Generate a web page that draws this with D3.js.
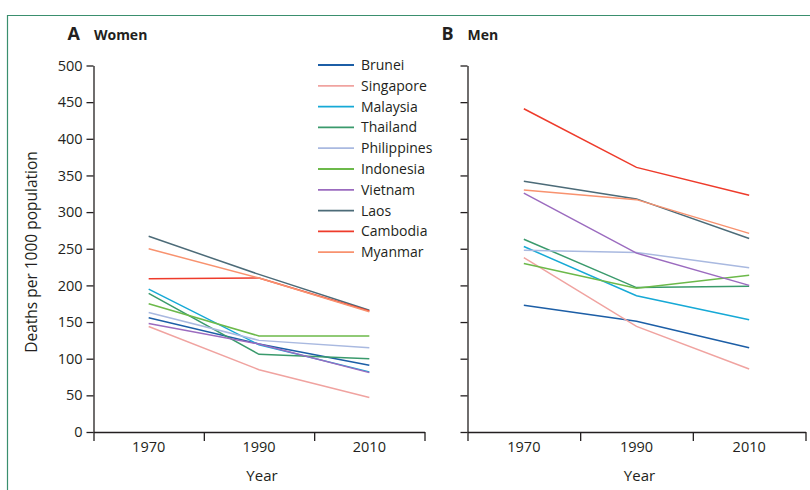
<!DOCTYPE html>
<html>
<head>
<meta charset="utf-8">
<script src="https://cdn.jsdelivr.net/npm/d3@7"></script>
<style>
  html, body { margin: 0; padding: 0; background: #fff; }
  svg { display: block; }
  text { font-family: "Open Sans", "Noto Sans", sans-serif; fill: #231f20; }
</style>
</head>
<body>
<svg id="chart" width="810" height="490"></svg>
<script>
// Mortality (deaths per 1000 population) by country, 1970 / 1990 / 2010
const years = ["1970", "1990", "2010"];
const countries = ["Brunei", "Singapore", "Malaysia", "Thailand", "Philippines",
                   "Indonesia", "Vietnam", "Laos", "Cambodia", "Myanmar"];
const colors = ["#1c5ea6", "#f0a3a0", "#16a9d6", "#3a9a6c", "#a9b9e0",
                "#6cb94a", "#9b6bbf", "#4c6b78", "#ee3b2b", "#f8926f"];

const women = {
  Brunei:      [156, 120, 91],
  Singapore:   [144, 85, 47],
  Malaysia:    [195, 119, 82],
  Thailand:    [189, 106, 100],
  Philippines: [163, 125, 115],
  Indonesia:   [175, 131, 131],
  Vietnam:     [148, 120, 81],
  Laos:        [267, 215, 166],
  Cambodia:    [209, 210, 165],
  Myanmar:     [250, 210, 164]
};
const men = {
  Brunei:      [173, 151, 115],
  Singapore:   [238, 144, 86],
  Malaysia:    [253, 186, 153],
  Thailand:    [263, 197, 199],
  Philippines: [248, 245, 224],
  Indonesia:   [230, 196, 214],
  Vietnam:     [326, 244, 200],
  Laos:        [342, 318, 264],
  Cambodia:    [441, 361, 323],
  Myanmar:     [330, 317, 271]
};
const yTicks = [0, 50, 100, 150, 200, 250, 300, 350, 400, 450, 500];

const svg = d3.select("#chart");

// Outer frame (top and left rules)
svg.append("path")
  .attr("d", "M7.5,490 V15.5 H810")
  .attr("fill", "none")
  .attr("stroke", "#3a8f6e")
  .attr("stroke-width", 1.2);

const y = d3.scaleLinear().domain([0, 500]).range([432, 65.5]);

function panel(x0, x1, letter, title, data) {
  const g = svg.append("g");
  const band = d3.scaleBand().domain(years).range([x0, x1]);
  const edge = d3.scaleLinear().domain([0, years.length]).range([x0, x1]);
  const xPos = yr => band(yr) + band.bandwidth() / 2;

  // y axis
  const ya = g.append("g")
    .attr("transform", `translate(${x0},0)`)
    .call(d3.axisLeft(y).tickValues(yTicks).tickSize(7).tickPadding(4).tickSizeOuter(0));
  ya.select(".domain").attr("stroke", "#231f20").attr("stroke-width", 1.3);
  ya.selectAll(".tick line").attr("stroke", "#231f20").attr("stroke-width", 1.3);
  ya.selectAll("text").style("font-size", "14.5px").attr("fill", "#231f20");
  if (letter !== "A") ya.selectAll("text").remove();

  // x axis: ticks at band boundaries
  const xa = g.append("g")
    .attr("transform", `translate(0,${y(0)})`)
    .call(d3.axisBottom(edge).tickValues(d3.range(years.length + 1))
      .tickFormat("").tickSize(9).tickSizeOuter(0));
  xa.select(".domain").attr("stroke", "#231f20").attr("stroke-width", 1.3);
  xa.selectAll(".tick line").attr("stroke", "#231f20").attr("stroke-width", 1.3);

  // x labels centred in each band
  const xl = g.append("g")
    .attr("transform", `translate(0,${y(0)})`)
    .call(d3.axisBottom(band).tickSize(0).tickPadding(10));
  xl.select(".domain").remove();
  xl.selectAll("text").style("font-size", "14.5px").attr("fill", "#231f20");

  g.append("text")
    .attr("x", (x0 + x1) / 2 + 3).attr("y", 481)
    .attr("text-anchor", "middle")
    .style("font-size", "15px")
    .text("Year");

  // panel heading
  const h = g.append("text").attr("x", x0 - 26).attr("y", 40);
  h.append("tspan").style("font-size", "18px").style("font-weight", 700).text(letter);
  h.append("tspan").attr("dx", 14).style("font-size", "14px").style("font-weight", 700).text(title);

  // series lines
  const line = d3.line().x((d, i) => xPos(years[i])).y(d => y(d));
  countries.forEach((c, i) => {
    g.append("path")
      .datum(data[c])
      .attr("d", line)
      .attr("fill", "none")
      .attr("stroke", colors[i])
      .attr("stroke-width", 1.5);
  });
}

panel(93.5, 424.5, "A", "Women", women);
panel(467.5, 805.5, "B", "Men", men);

// y axis title
svg.append("text")
  .attr("transform", "translate(37,252) rotate(-90)")
  .attr("text-anchor", "middle")
  .style("font-size", "15.5px")
  .text("Deaths per 1000 population");

// legend
const lg = svg.append("g").attr("transform", "translate(318,65)");
countries.forEach((c, i) => {
  const row = lg.append("g").attr("transform", `translate(0,${i * 20.8})`);
  row.append("line").attr("x1", 0).attr("x2", 36).attr("y1", 0).attr("y2", 0)
    .attr("stroke", colors[i]).attr("stroke-width", 1.8);
  row.append("text").attr("x", 43).attr("y", 5).style("font-size", "14px").text(c);
});
</script>
</body>
</html>
